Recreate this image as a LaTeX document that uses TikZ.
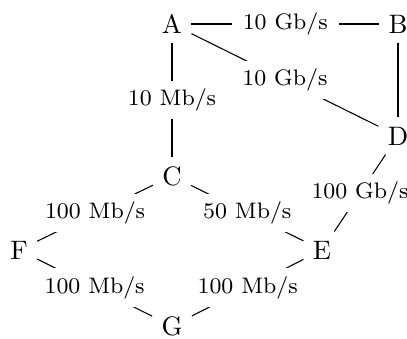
\documentclass[tikz,border=0pt]{standalone}
\begin{document}
\begin{tikzpicture}[x=0.3745pt,y=-0.3745pt,
  vertex/.style={font=\fontsize{10}{12}\selectfont, inner sep=3.33pt},
  rate/.style={font=\fontsize{8.4}{10}\selectfont, fill=white, inner xsep=4.2pt, inner ysep=3pt, midway},
  link/.style={draw=black, line width=0.4pt}]
\useasboundingbox (0,0) rectangle (407,338);
\node[vertex] (A) at (172,24) {A};
\node[vertex] (B) at (398,24) {B};
\node[vertex] (D) at (398,136) {D};
\node[vertex] (C) at (172,176) {C};
\node[vertex] (F) at (19,250) {F};
\node[vertex] (E) at (322,250) {E};
\node[vertex] (G) at (172,326) {G};
\draw[link] (A) -- node[rate] (lab) {10 Gb/s} (B);
\draw[link] (A) -- node[rate] (lad) {10 Gb/s} (D);
\draw[link] (B) -- (D);
\draw[link] (A) -- node[rate] (lac) {10 Mb/s} (C);
\draw[link] (D) -- node[rate] (lde) {100 Gb/s} (E);
\draw[link] (C) -- node[rate] (lcf) {100 Mb/s} (F);
\draw[link] (C) -- node[rate] (lce) {50 Mb/s} (E);
\draw[link] (F) -- node[rate] (lfg) {100 Mb/s} (G);
\draw[link] (E) -- node[rate] (leg) {100 Mb/s} (G);
\end{tikzpicture}
\end{document}
